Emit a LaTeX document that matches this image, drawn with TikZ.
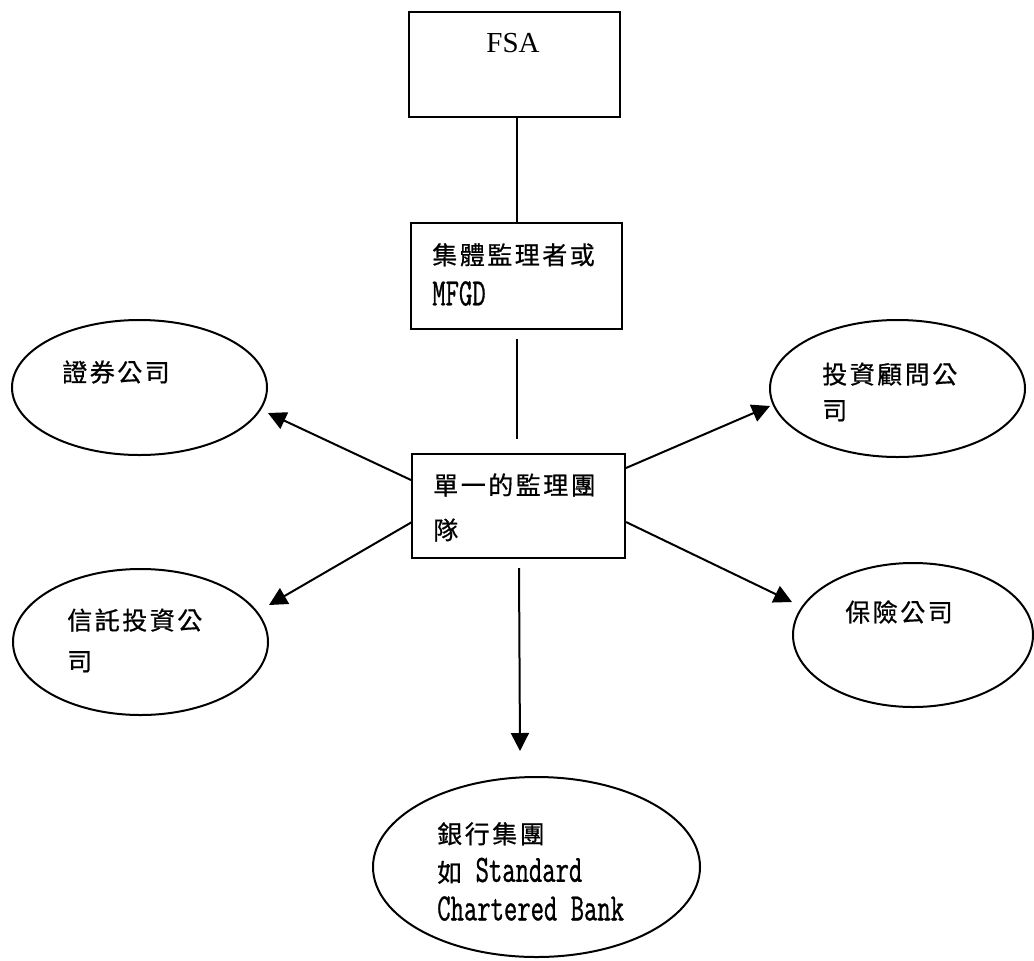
\documentclass[tikz,border=0pt]{standalone}
\usepackage{fontspec}
\setmainfont{Liberation Serif}
\newfontfamily\cjkfont[LetterSpace=10,FakeBold=0.6]{Noto Sans CJK TC}
\newfontfamily\monofont[FakeStretch=0.67,FakeBold=0.8]{Latin Modern Mono}
\usetikzlibrary{shapes.geometric,arrows.meta,calc}
% half-width Latin set inside CJK labels
\newcommand\lat[1]{{\monofont\fontsize{29pt}{30pt}\selectfont #1}}

\begin{document}
\begin{tikzpicture}[x=0.75pt,y=-0.75pt,
  box/.style={draw,line width=1.5pt,rectangle,inner sep=0pt},
  oval/.style={draw,line width=1.5pt,ellipse,inner sep=0pt},
  link/.style={line width=1.5pt},
  arr/.style={line width=1.5pt,-{Triangle[length=13.5pt,width=13.5pt]}},
  lbl/.style={inner sep=0pt,anchor=west,align=left},
  cj/.style={font=\cjkfont\fontsize{18.75pt}{#1}\selectfont}
]
\useasboundingbox (0,0) rectangle (1034,960);

% boxes
\node[box,minimum width=158.25pt,minimum height=78.75pt] (fsa)  at (514.5,64.5) {};
\node[box,minimum width=158.25pt,minimum height=79.5pt]  (grp)  at (516.5,276)  {};
\node[box,minimum width=159.75pt,minimum height=78pt]    (team) at (518.5,506)  {};

% companies
\node[oval,minimum width=191.25pt,minimum height=101.25pt] (sec)  at (139.5,387.5) {};
\node[oval,minimum width=191.25pt,minimum height=102.75pt] (adv)  at (897.5,388.5) {};
\node[oval,minimum width=191.25pt,minimum height=109.5pt]  (trust) at (140.5,642)  {};
\node[oval,minimum width=180pt,minimum height=108pt]       (ins)  at (913,635)     {};
\node[oval,minimum width=245.25pt,minimum height=135pt]    (bank) at (536.5,867)   {};

% labels
\node[inner sep=0pt,font=\fontsize{21.75pt}{26pt}\selectfont] (fsa-t) at (513,43) {FSA};
\node[lbl,cj=30.75pt] (grp-t)  at (432,274.5) {集體監理者或\\\lat{MFGD}};
\node[lbl,cj=33.75pt] (team-t) at (433,507.5) {單一的監理團\\隊};
\node[lbl,cj=30pt]    (sec-t)  at (62,372)    {證券公司};
\node[lbl,cj=27pt]    (adv-t)  at (822,392)   {投資顧問公\\司};
\node[lbl,cj=30.75pt] (trust-t) at (67,640.5) {信託投資公\\司};
\node[lbl,cj=30pt]    (ins-t)  at (845,612)   {保險公司};
\node[lbl,cj=28.9pt]  (bank-t) at (437,871.5) {銀行集團\\如\lat{~Standard}\\\lat{Chartered~Bank}};

% reporting lines
\draw[link] (fsa.south -| grp.north) -- (grp.north);
\draw[link] ($(grp.south)+(0.5,9)$) -- ($(team.north)+(-1.5,-14)$);

% supervision arrows
\draw[arr] ($(team.west)+(0,-26)$) -- ($(sec.east)+(0,25.5)$);
\draw[arr] ($(team.east)+(0,-38)$) -- ($(adv.west)+(1,17.5)$);
\draw[arr] ($(team.west)+(1,16)$)  -- ($(trust.east)+(0,-37)$);
\draw[arr] ($(team.east)+(0,16)$)  -- ($(ins.west)+(0,-33)$);
\draw[arr] ($(team.south)+(0.5,9)$) -- ($(bank.north)+(-16.5,-25)$);
\end{tikzpicture}
\end{document}
